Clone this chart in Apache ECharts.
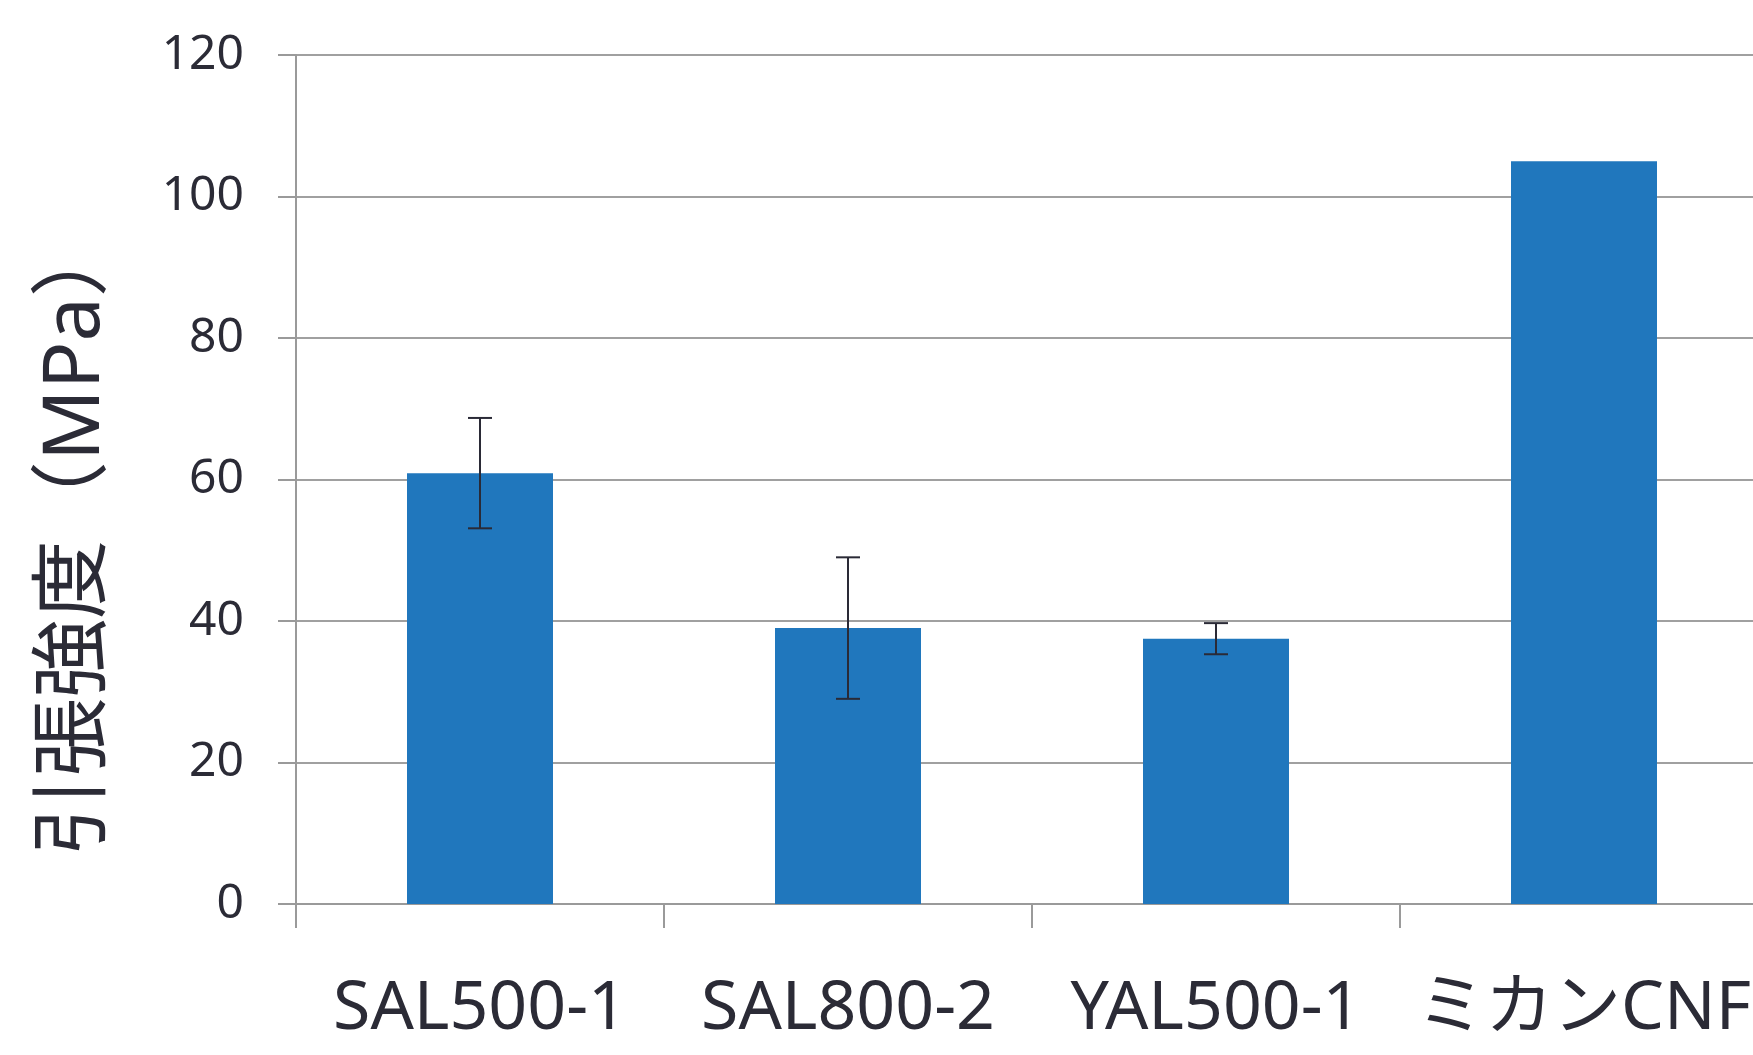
<!DOCTYPE html>
<html>
<head>
<meta charset="utf-8">
<script src="https://cdn.jsdelivr.net/npm/echarts@6/dist/echarts.min.js"></script>
<style>
html,body{margin:0;padding:0;background:#fff;}
#chart{width:1753px;height:1055px;}
</style>
</head>
<body>
<div id="chart"></div>
<script>
const categories = ['SAL500-1', 'SAL800-2', 'YAL500-1', 'ミカンCNF'];
const values = [60.9, 39.0, 37.5, 105.0];
const errors = [7.8, 10.0, 2.2, null];
const yTicks = [0, 20, 40, 60, 80, 100, 120];
const yAxisTitle = '引張強度（MPa）';

const textColor = '#2b2b36';
const fontFamily = '"Noto Sans", "Noto Sans CJK JP", sans-serif';

const errData = categories.map((c, i) => errors[i] == null ? null : [i, values[i] - errors[i], values[i] + errors[i]]).filter(d => d);

const chart = echarts.init(document.getElementById('chart'), null, {renderer: 'canvas'});
chart.setOption({
  animation: false,
  backgroundColor: '#ffffff',
  grid: {left: 296, top: 55, width: 1472, height: 849, containLabel: false, outerBoundsMode: 'none'},
  graphic: [{
    type: 'text',
    x: 76,
    y: 537,
    rotation: Math.PI / 2,
    style: {
      text: yAxisTitle,
      fill: textColor,
      font: '79px ' + fontFamily,
      textAlign: 'center',
      textVerticalAlign: 'middle'
    }
  }],
  xAxis: {
    type: 'category',
    data: categories,
    boundaryGap: true,
    axisLine: {show: true, lineStyle: {color: '#9a9a9a', width: 2}},
    axisTick: {show: true, length: 24, alignWithLabel: false, lineStyle: {color: '#9a9a9a', width: 2}},
    axisLabel: {color: textColor, fontSize: 68, fontFamily: fontFamily, margin: 72, interval: 0, hideOverlap: false}
  },
  yAxis: {
    type: 'value',
    min: yTicks[0],
    max: yTicks[yTicks.length - 1],
    interval: 20,
    axisLine: {show: true, lineStyle: {color: '#9a9a9a', width: 2}},
    axisTick: {show: true, length: 18, lineStyle: {color: '#9a9a9a', width: 2}},
    axisLabel: {color: textColor, fontSize: 48, fontFamily: fontFamily, margin: 52},
    splitLine: {show: true, lineStyle: {color: '#a0a0a0', width: 2}}
  },
  series: [
    {
      type: 'bar',
      data: values,
      barWidth: 146,
      itemStyle: {color: '#2077bd'}
    },
    {
      type: 'custom',
      data: errData,
      z: 10,
      renderItem: function (params, api) {
        const x = api.value(0);
        const lo = api.coord([x, api.value(1)]);
        const hi = api.coord([x, api.value(2)]);
        const hw = 12;
        const style = {stroke: '#2a2a36', lineWidth: 2};
        return {
          type: 'group',
          children: [
            {type: 'line', shape: {x1: hi[0], y1: hi[1], x2: lo[0], y2: lo[1]}, style: style},
            {type: 'line', shape: {x1: hi[0] - hw, y1: hi[1], x2: hi[0] + hw, y2: hi[1]}, style: style},
            {type: 'line', shape: {x1: lo[0] - hw, y1: lo[1], x2: lo[0] + hw, y2: lo[1]}, style: style}
          ]
        };
      }
    }
  ]
});
</script>
</body>
</html>
